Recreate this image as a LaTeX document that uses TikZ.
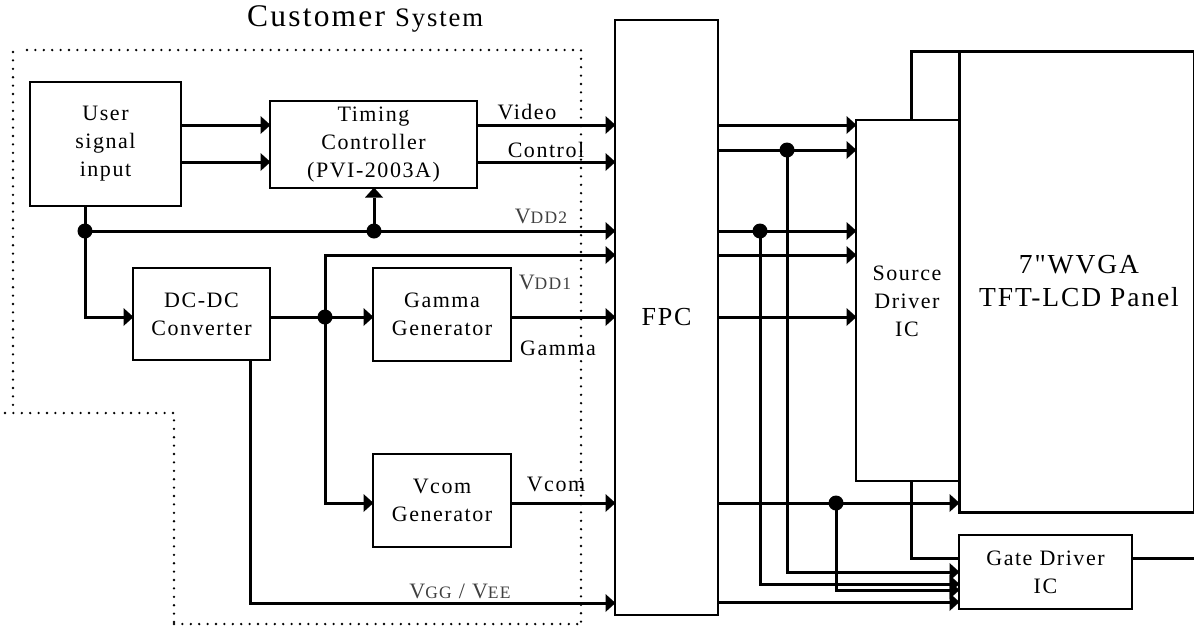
\documentclass[tikz,border=0pt]{standalone}
\usepackage{fontspec}
\setmainfont[LetterSpace=7,Ligatures=TeXOff]{Liberation Serif}
\usetikzlibrary{arrows.meta}
\tikzset{
  x=1pt,y=-1pt,
  blk/.style={draw,line width=1.7pt,fill=white,align=center,inner sep=0pt,outer sep=0pt,anchor=north west,font=\fontsize{22}{28}\selectfont},
  wire/.style={line width=3pt},
  arr/.style={wire,-{Triangle[length=10pt,width=18pt,line width=0pt]},shorten >=-0.5pt},
  dotb/.style={circle,fill=black,inner sep=0pt,minimum width=15pt,minimum height=13pt},
  lab/.style={inner sep=0pt,font=\fontsize{22}{28}\selectfont},
  vlab/.style={inner sep=0pt,text=black!75},
  edge/.style={dash pattern=on 0pt off 8.4pt,line width=2.6pt,line cap=round},
}
\newcommand{\bigv}[1]{{\fontsize{22}{28}\selectfont #1}}
\newcommand{\smv}[1]{{\fontsize{17.5}{28}\selectfont #1}}
\begin{document}
\begin{tikzpicture}
\useasboundingbox (0,0) rectangle (1194,627);
% dotted boundary
\draw[edge] (27,50) -- (581,50) -- (581,622);
\draw[edge] (13,52) -- (13,410);
\draw[edge] (5,413) -- (174,413) -- (174,622);
\draw[edge] (174,624) -- (581,624);
% blocks
\node[blk,minimum width=103pt,minimum height=595pt,font=\fontsize{26}{28}\selectfont] (fpc) at (615,20) {FPC};
\node[blk,minimum width=235pt,minimum height=461pt] (panel) at (959,51) {};
\node[inner sep=0pt,align=center,font=\fontsize{27.5}{33}\selectfont] (panelt) at (1079,281) {7"WVGA\\TFT-LCD Panel};
\node[blk,minimum width=103pt,minimum height=361pt] (src) at (856,120) {};
\node[lab,align=center] (srct) at (907,301) {Source\\Driver\\IC};
\node[blk,minimum width=173pt,minimum height=74pt] (gate) at (959,535) {Gate Driver\\IC};
\node[blk,minimum width=151pt,minimum height=124pt] (user) at (30,82) {User\\signal\\input};
\node[blk,minimum width=207pt,minimum height=87pt] (tim) at (270,101) {Timing\\Controller\\(PVI-2003A)};
\node[blk,minimum width=137pt,minimum height=92pt] (dc) at (133,268) {DC-DC\\Converter};
\node[blk,minimum width=138pt,minimum height=93pt] (gam) at (373,268) {Gamma\\Generator};
\node[blk,minimum width=138pt,minimum height=93pt] (vcom) at (373,454) {Vcom\\Generator};
% named points
\coordinate (j1) at (85,231);
\coordinate (j2) at (374,231);
\coordinate (j3) at (325,317);
\coordinate (j4) at (787,150);
\coordinate (j5) at (760,231);
\coordinate (j6) at (836,503);
\coordinate (pr) at (1194,51);
\coordinate (gr) at (1194,558);
% user / timing
\draw[arr] (user.east |- 0,125) -- (tim.west |- 0,125);
\draw[arr] (user.east |- 0,162) -- (tim.west |- 0,162);
\draw[arr] (tim.east |- 0,125) -- (fpc.west |- 0,125);
\draw[arr] (tim.east |- 0,162) -- (fpc.west |- 0,162);
\draw[wire] (user.south -| j1) -- (j1);
\draw[arr] (j1) -- (fpc.west |- j1);
\draw[arr] (j2) -- (j2 |- tim.south);
\draw[arr] (j1) |- (dc.west |- j3);
\draw[wire] (dc.east |- j3) -- (j3);
\draw[arr] (j3) -- (gam.west |- j3);
\draw[arr] (j3) |- (fpc.west |- 0,255);
\draw[arr] (j3) |- (vcom.west |- 0,503);
\draw[arr] (gam.east |- j3) -- (fpc.west |- j3);
\draw[arr] (vcom.east |- 0,503) -- (fpc.west |- 0,503);
\draw[arr] (250,360) |- (fpc.west |- 0,603);
% FPC to source
\draw[arr] (fpc.east |- 0,125) -- (src.west |- 0,125);
\draw[arr] (fpc.east |- j4) -- (src.west |- j4);
\draw[arr] (fpc.east |- j5) -- (src.west |- j5);
\draw[arr] (fpc.east |- 0,255) -- (src.west |- 0,255);
\draw[arr] (fpc.east |- j3) -- (src.west |- j3);
\draw[arr] (fpc.east |- j6) -- (panel.west |- j6);
% source top / bottom
\draw[wire] (911,120) -- (911,51) -- (pr);
\draw[wire] (959,51) -- (959,512) -- (1194,512);
\draw[wire] (911,481) |- (gate.west |- gr);
\draw[wire] (gate.east |- gr) -- (gr);
% gate inputs
\draw[arr] (j4) |- (gate.west |- 0,572);
\draw[arr] (j5) |- (gate.west |- 0,584);
\draw[arr] (j6) |- (gate.west |- 0,590);
\draw[arr] (fpc.east |- 0,602) -- (gate.west |- 0,602);
% dots
\foreach \j in {j1,j2,j3,j4,j5,j6} \node[dotb] at (\j) {};
% labels
\node[inner sep=0pt,font=\fontsize{31.5}{34}\selectfont,anchor=west] (ttl) at (247,19) {Customer {\fontsize{26.7}{34}\selectfont System}};
\node[lab] (lv) at (527,112) {Video};
\node[lab] (lc) at (546,150) {Control};
\node[lab] (lg) at (558,348) {Gamma};
\node[lab] (lvc) at (556,484) {Vcom};
\node[vlab] (ld2) at (541,216) {\bigv{V}\smv{DD2}};
\node[vlab] (ld1) at (545,282) {\bigv{V}\smv{DD1}};
\node[vlab] (lgg) at (460,591) {\bigv{V}\smv{GG}\bigv{ / V}\smv{EE}};
\end{tikzpicture}
\end{document}
